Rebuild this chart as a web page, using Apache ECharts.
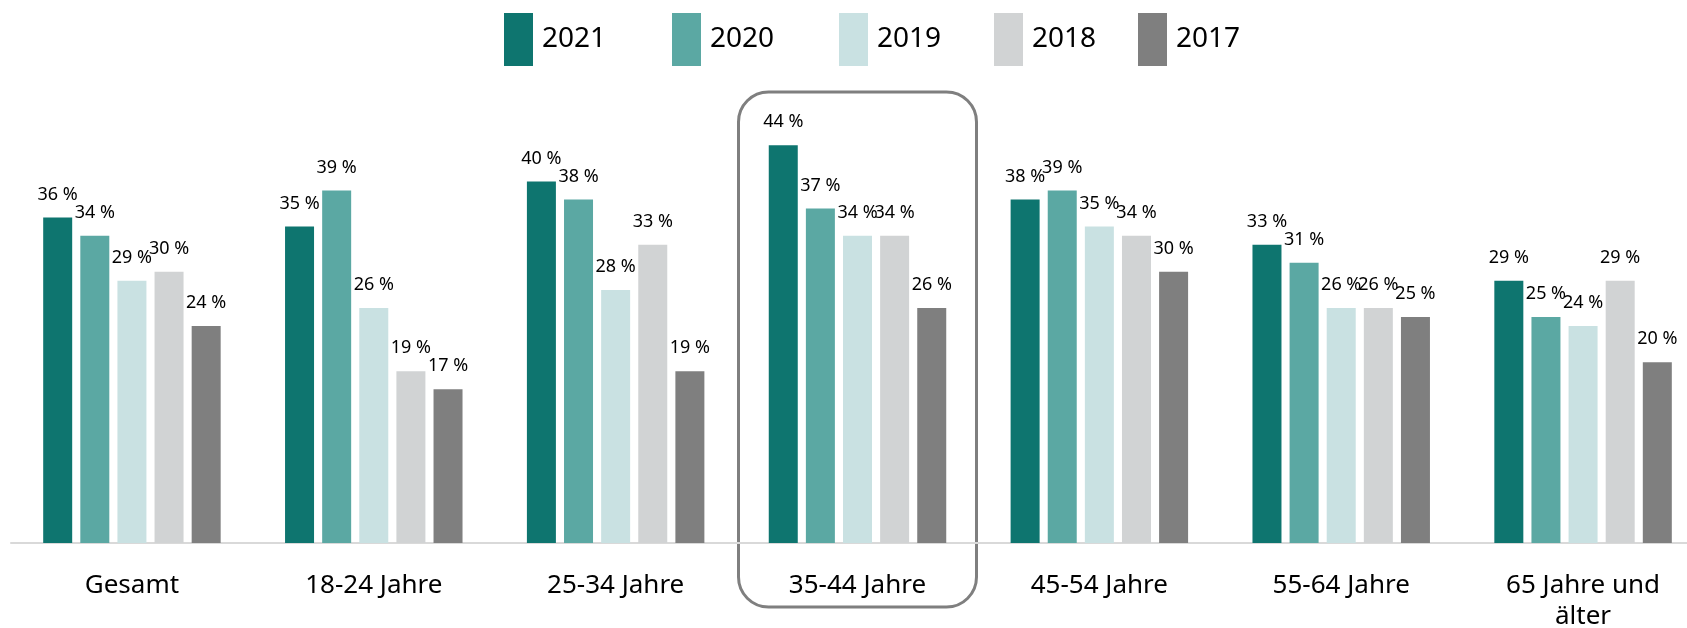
<!DOCTYPE html>
<html>
<head>
<meta charset="utf-8">
<script src="https://cdn.jsdelivr.net/npm/echarts@6/dist/echarts.min.js"></script>
<style>
    html, body { margin: 0; padding: 0; background: #fff; }
    #chart { width: 1687px; height: 628px; }
</style>
</head>
<body>
<div id="chart"></div>
<script>
// Altersgruppen
const categories = ['Gesamt', '18-24 Jahre', '25-34 Jahre', '35-44 Jahre', '45-54 Jahre', '55-64 Jahre', '65 Jahre und\nälter'];
const years = ['2021', '2020', '2019', '2018', '2017'];

// Werte in Prozent
const v2021 = [36, 35, 40, 44, 38, 33, 29];
const v2020 = [34, 39, 38, 37, 39, 31, 25];
const v2019 = [29, 26, 28, 34, 35, 26, 24];
const v2018 = [30, 19, 33, 34, 34, 26, 29];
const v2017 = [24, 17, 19, 26, 30, 25, 20];

const values = [v2021, v2020, v2019, v2018, v2017];
const colors = ['#0e756f', '#5ba8a3', '#c9e1e2', '#d1d3d4', '#7f7f7f'];
const legendLeft = [504, 672, 839, 994, 1138];
const font = 'Noto Sans';

const chart = echarts.init(document.getElementById('chart'));

const legends = years.map((y, i) => ({
    data: [y],
    left: legendLeft[i],
    top: 13,
    padding: 0,
    itemWidth: 29,
    itemHeight: 53,
    selectedMode: false,
    icon: 'rect',
    textStyle: {
        fontFamily: font,
        fontSize: 28,
        color: '#000',
        padding: [0, 0, 0, 4]
    }
}));

const series = years.map((y, i) => ({
    name: y,
    type: 'bar',
    data: values[i],
    barWidth: 29,
    barGap: '28%',
    itemStyle: { color: colors[i] },
    label: {
        show: true,
        position: 'top',
        distance: 14,
        formatter: '{c} %',
        fontFamily: font,
        fontSize: 18,
        color: '#000'
    }
}));

chart.setOption({
    animation: false,
    legend: legends,
    grid: {
        left: 11,
        width: 1693,
        top: 91,
        bottom: 85,
        outerBoundsMode: 'none'
    },
    xAxis: {
        type: 'category',
        data: categories,
        axisLine: { lineStyle: { color: '#d9d9d9', width: 2 } },
        axisTick: { show: false },
        axisLabel: {
            interval: 0,
            margin: 27,
            fontFamily: font,
            fontSize: 26,
            lineHeight: 31,
            color: '#000'
        }
    },
    yAxis: {
        type: 'value',
        min: 0,
        max: 50,
        show: false,
        splitLine: { show: false }
    },
    series: series
});

// Rahmen um 35-44 Jahre
const cx = chart.convertToPixel({ xAxisIndex: 0 }, categories[3]);
chart.setOption({
    graphic: [{
        type: 'rect',
        shape: { x: cx - 119, y: 92, width: 238, height: 515, r: 30 },
        style: { fill: 'none', stroke: '#7f7f7f', lineWidth: 3 },
        silent: true
    }]
});
</script>
</body>
</html>
